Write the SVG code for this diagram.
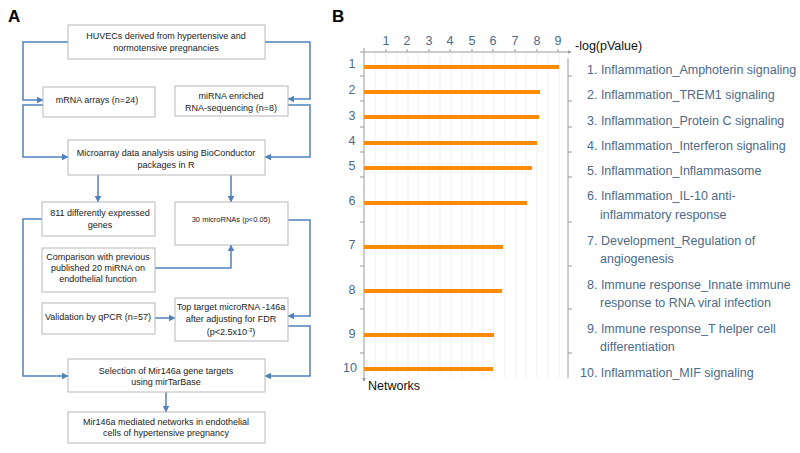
<svg xmlns="http://www.w3.org/2000/svg" width="800" height="453" viewBox="0 0 800 453">
<style>
.box{fill:#fff;stroke:#b8b8b8;stroke-width:1}
.bt{font-family:"Liberation Sans",Arial,sans-serif;font-size:9px;fill:#222;text-anchor:middle}
.con{fill:none;stroke:#4f81bd;stroke-width:1.5}
.pl{font-family:"Liberation Sans",Arial,sans-serif;font-size:17px;font-weight:bold;fill:#000}
.ax{font-family:"Liberation Sans",Arial,sans-serif;font-size:12.5px;fill:#4d6a87}
.lab{font-family:"Liberation Sans",Arial,sans-serif;font-size:12.5px;fill:#4d6a87}
.axl{stroke:#9a9a9a;stroke-width:1;fill:none}
.grid{stroke:#efefef;stroke-width:1}
.bar{stroke:#ff8c00;stroke-width:4}
</style>
<defs>
<marker id="ah" viewBox="0 0 6 6" refX="5.5" refY="3" markerWidth="4.5" markerHeight="4.5" orient="auto"><path d="M0,0 L6,3 L0,6 z" fill="#4f81bd"/></marker>
<marker id="ga" viewBox="0 0 6 6" refX="5" refY="3" markerWidth="4" markerHeight="4" orient="auto"><path d="M0,0 L6,3 L0,6 z" fill="#9a9a9a"/></marker>
</defs>
<text class="pl" x="8" y="22">A</text>
<text class="pl" x="332" y="22">B</text>
<g id="connectors">
<path class="con" marker-end="url(#ah)" d="M68,42 H23 V100 H43"/>
<path class="con" marker-end="url(#ah)" d="M265,42 H310 V99 H288"/>
<path class="con" marker-end="url(#ah)" d="M43,105 H23 V157 H68"/>
<path class="con" marker-end="url(#ah)" d="M288,105 H310 V157 H265"/>
<path class="con" marker-end="url(#ah)" d="M98,175 V202"/>
<path class="con" marker-end="url(#ah)" d="M231,175 V202"/>
<path class="con" marker-end="url(#ah)" d="M42,219 H23 V376 H68"/>
<path class="con" marker-end="url(#ah)" d="M288,220 H310 V316 H288"/>
<path class="con" marker-end="url(#ah)" d="M155,268 H231 V245"/>
<path class="con" marker-end="url(#ah)" d="M155,318 H175"/>
<path class="con" marker-end="url(#ah)" d="M288,326 H310 V376 H265"/>
<path class="con" marker-end="url(#ah)" d="M166,392 V412"/>
</g>
<g id="n_huvec"><rect class="box" x="68" y="25" width="197" height="34"/><text class="bt" x="166" y="39">HUVECs derived from hypertensive and</text><text class="bt" x="166" y="51">normotensive pregnancies</text></g>
<g id="n_mrna"><rect class="box" x="43" y="87" width="112" height="30"/><text class="bt" x="97" y="103">mRNA arrays (n=24)</text></g>
<g id="n_mirna"><rect class="box" x="175" y="86" width="113" height="30"/><text class="bt" x="231" y="99">miRNA enriched</text><text class="bt" x="231" y="111">RNA-sequencing (n=8)</text></g>
<g id="n_micro"><rect class="box" x="68" y="140" width="197" height="35"/><text class="bt" x="166" y="156">Microarray data analysis using  BioConductor</text><text class="bt" x="166" y="168">packages in R</text></g>
<g id="n_811"><rect class="box" x="42" y="202" width="113" height="34"/><text class="bt" x="100" y="216">811 differently expressed</text><text class="bt" x="100" y="228">genes</text></g>
<g id="n_30"><rect class="box" x="175" y="202" width="113" height="43"/><text class="bt" x="231" y="222" style="font-size:7.5px">30 microRNAs (p&lt;0.05)</text></g>
<g id="n_comp"><rect class="box" x="42" y="248" width="113" height="44"/><text class="bt" x="98" y="260">Comparison with previous</text><text class="bt" x="98" y="271">published 20 miRNA on</text><text class="bt" x="98" y="282">endothelial function</text></g>
<g id="n_valid"><rect class="box" x="42" y="303" width="113" height="31"/><text class="bt" x="98" y="320">Validation by qPCR (n=57)</text></g>
<g id="n_top"><rect class="box" x="175" y="298" width="113" height="43"/><text class="bt" x="231" y="310">Top target microRNA -146a</text><text class="bt" x="231" y="322">after adjusting for FDR</text><text class="bt" x="231" y="335">(p&lt;2.5x10<tspan dy="-3" style="font-size:6px">-3</tspan><tspan dy="3">)</tspan></text></g>
<g id="n_sel"><rect class="box" x="68" y="359" width="197" height="33"/><text class="bt" x="166" y="374">Selection of Mir146a gene targets</text><text class="bt" x="166" y="385">using mirTarBase</text></g>
<g id="n_net"><rect class="box" x="68" y="412" width="197" height="31"/><text class="bt" x="166" y="425">Mir146a mediated networks in endothelial</text><text class="bt" x="166" y="436">cells of hypertensive pregnancy</text></g>
<g id="chart">
<g id="grid">
<line class="grid" x1="375" y1="53" x2="375" y2="378"/><line class="grid" x1="386" y1="53" x2="386" y2="378"/><line class="grid" x1="397" y1="53" x2="397" y2="378"/><line class="grid" x1="408" y1="53" x2="408" y2="378"/><line class="grid" x1="418" y1="53" x2="418" y2="378"/><line class="grid" x1="429" y1="53" x2="429" y2="378"/><line class="grid" x1="440" y1="53" x2="440" y2="378"/><line class="grid" x1="451" y1="53" x2="451" y2="378"/><line class="grid" x1="462" y1="53" x2="462" y2="378"/><line class="grid" x1="472" y1="53" x2="472" y2="378"/><line class="grid" x1="483" y1="53" x2="483" y2="378"/><line class="grid" x1="494" y1="53" x2="494" y2="378"/><line class="grid" x1="505" y1="53" x2="505" y2="378"/><line class="grid" x1="516" y1="53" x2="516" y2="378"/><line class="grid" x1="526" y1="53" x2="526" y2="378"/><line class="grid" x1="537" y1="53" x2="537" y2="378"/><line class="grid" x1="548" y1="53" x2="548" y2="378"/><line class="grid" x1="559" y1="53" x2="559" y2="378"/>
</g>
<path class="axl" d="M360,52 H571" marker-end="url(#ga)"/>
<path class="axl" d="M364,48 V381" marker-end="url(#ga)"/>
<path class="axl" d="M568,58 V378 M386,52 V49 M407,52 V49 M429,52 V49 M450,52 V49 M472,52 V49 M493,52 V49 M515,52 V49 M537,52 V49 M558,52 V49 M360,76 H364 M360,101 H364 M360,127 H364 M360,152 H364 M360,177 H364 M360,222 H364 M360,266 H364 M360,309 H364 M360,353 H364 M568,76 H572 M568,101 H572 M568,127 H572 M568,152 H572 M568,177 H572 M568,222 H572 M568,266 H572 M568,309 H572 M568,353 H572"/>
<g class="ax" text-anchor="middle">
<text x="386" y="45">1</text><text x="407" y="45">2</text><text x="429" y="45">3</text><text x="450" y="45">4</text><text x="472" y="45">5</text><text x="493" y="45">6</text><text x="515" y="45">7</text><text x="537" y="45">8</text><text x="558" y="45">9</text>
</g>
<g class="ax" text-anchor="middle">
<text x="352" y="68">1</text><text x="352" y="94">2</text><text x="352" y="120">3</text><text x="352" y="145">4</text><text x="352" y="170">5</text><text x="352" y="205">6</text><text x="352" y="249">7</text><text x="352" y="294">8</text><text x="352" y="338">9</text><text x="350" y="372">10</text>
</g>
<text x="575" y="50" style="font-family:'Liberation Sans',Arial,sans-serif;font-size:12.5px;fill:#111">-log(pValue)</text>
<text x="368" y="390" style="font-family:'Liberation Sans',Arial,sans-serif;font-size:12.5px;fill:#111">Networks</text>
<g id="bars">
<line class="bar" x1="364" y1="67" x2="559" y2="67"/>
<line class="bar" x1="364" y1="92" x2="540" y2="92"/>
<line class="bar" x1="364" y1="117" x2="539" y2="117"/>
<line class="bar" x1="364" y1="143" x2="537" y2="143"/>
<line class="bar" x1="364" y1="168" x2="532" y2="168"/>
<line class="bar" x1="364" y1="203" x2="527" y2="203"/>
<line class="bar" x1="364" y1="247" x2="503" y2="247"/>
<line class="bar" x1="364" y1="291" x2="502" y2="291"/>
<line class="bar" x1="364" y1="335" x2="494" y2="335"/>
<line class="bar" x1="364" y1="369" x2="493" y2="369"/>
</g>
<g class="lab">
<text x="587" y="74">1. Inflammation_Amphoterin signaling</text>
<text x="587" y="99">2. Inflammation_TREM1 signaling</text>
<text x="587" y="125">3. Inflammation_Protein C signaling</text>
<text x="587" y="150">4. Inflammation_Interferon signaling</text>
<text x="587" y="175">5. Inflammation_Inflammasome</text>
<text x="587" y="200">6. Inflammation_IL-10 anti-</text>
<text x="600" y="219">inflammatory response</text>
<text x="587" y="245">7. Development_Regulation of</text>
<text x="600" y="263">angiogenesis</text>
<text x="587" y="289">8. Immune response_Innate immune</text>
<text x="600" y="307">response to RNA viral infection</text>
<text x="587" y="333">9. Immune response_T helper cell</text>
<text x="600" y="351">differentiation</text>
<text x="580" y="377">10. Inflammation_MIF signaling</text>
</g>
</g>
</svg>
